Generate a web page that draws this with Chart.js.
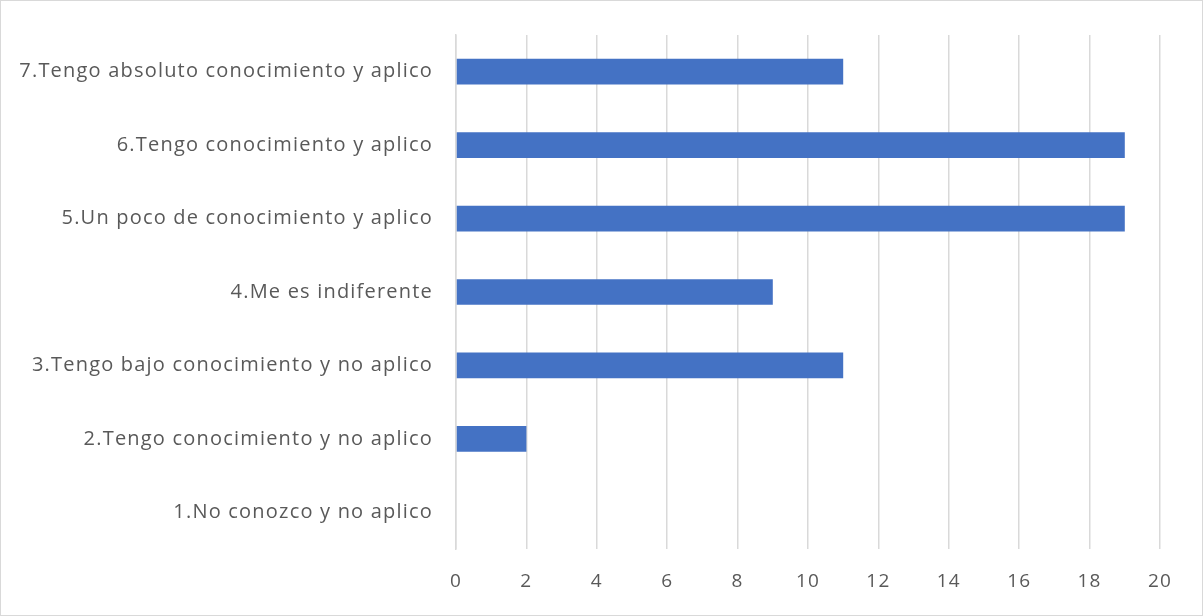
<!DOCTYPE html>
<html>
<head>
<meta charset="utf-8">
<script src="https://cdn.jsdelivr.net/npm/chart.js@4"></script>
<style>
html,body{margin:0;padding:0;background:#fff;}
#wrap{width:1203px;height:616px;position:relative;}
</style>
</head>
<body>
<div id="wrap"><canvas id="c" width="1203" height="616"></canvas></div>
<script>
const categories = [
  "1.No conozco y no aplico",
  "2.Tengo conocimiento y no aplico",
  "3.Tengo bajo conocimiento y no aplico",
  "4.Me es indiferente",
  "5.Un poco de conocimiento y aplico",
  "6.Tengo conocimiento y aplico",
  "7.Tengo absoluto conocimiento y aplico"
];
const values = [0, 2, 11, 9, 19, 19, 11];
const xTicks = [0, 2, 4, 6, 8, 10, 12, 14, 16, 18, 20];

const FONT = "'Open Sans', sans-serif";
const borderPlugin = {
  id: 'outerBorder',
  beforeDraw(chart) {
    chart.ctx.letterSpacing = '1.2px';
  },
  afterDraw(chart) {
    const ctx = chart.ctx;
    ctx.save();
    ctx.strokeStyle = '#d9d9d9';
    ctx.lineWidth = 1;
    ctx.strokeRect(0.5, 0.5, chart.width - 1, chart.height - 1);
    ctx.restore();
  }
};

new Chart(document.getElementById('c'), {
  type: 'bar',
  data: {
    labels: categories,
    datasets: [{
      data: values,
      backgroundColor: '#4472C4',
      borderWidth: 0,
      barPercentage: 0.7,
      categoryPercentage: 0.5
    }]
  },
  options: {
    indexAxis: 'y',
    responsive: false,
    devicePixelRatio: 1,
    animation: false,
    layout: { padding: { left: 0, right: 43, top: 32, bottom: 0 } },
    plugins: { legend: { display: false }, tooltip: { enabled: false } },
    scales: {
      x: {
        min: 0, max: 20,
        afterBuildTicks(axis) { axis.ticks = xTicks.map(v => ({ value: v })); },
        afterFit(axis) { axis.height = 67; },
        grid: { color: '#d9d9d9', lineWidth: 1.5, drawTicks: false },
        border: { display: false },
        ticks: { color: '#595959', font: { family: FONT, size: 19 }, padding: 21 }
      },
      y: {
        reverse: true,
        afterFit(axis) { axis.width = 456; },
        grid: { display: false, drawTicks: false },
        border: { display: true, color: '#d9d9d9', width: 1.5 },
        ticks: { color: '#595959', font: { family: FONT, size: 20 }, padding: 23 }
      }
    }
  },
  plugins: [borderPlugin]
});
</script>
</body>
</html>
